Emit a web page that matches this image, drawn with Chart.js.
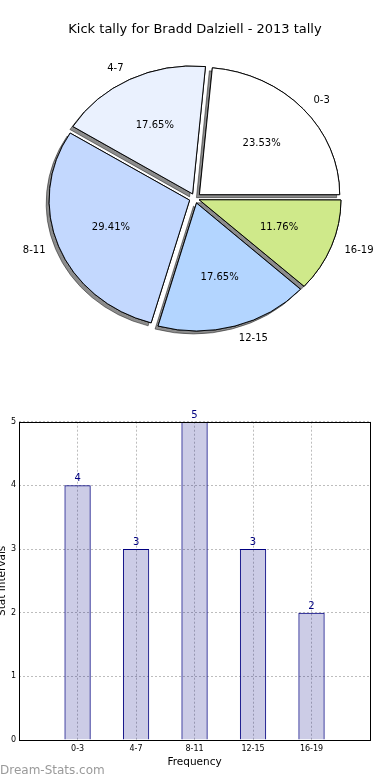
<!DOCTYPE html>
<html>
<head>
<meta charset="utf-8">
<script src="https://cdn.jsdelivr.net/npm/chart.js@4.4.1/dist/chart.umd.min.js"></script>
<style>
  body { margin: 0; background: #fff; width: 390px; height: 780px; position: relative; overflow: hidden; font-family: "DejaVu Sans", sans-serif; }
  canvas { display: block; }
  #pieBox { position: absolute; left: 0; top: 0; }
  #barBox { position: absolute; left: 0; top: 400px; }
  #mark { position: absolute; left: 0; top: 763px; font-size: 12px; line-height: 14px; color: #9a9a9a; }
</style>
</head>
<body>
<div id="pieBox"><canvas id="pieChart" width="390" height="351"></canvas></div>
<div id="barBox"><canvas id="barChart" width="390" height="380"></canvas></div>
<div id="mark">Dream-Stats.com</div>
<script>
// data
const categories = ["0-3", "4-7", "8-11", "12-15", "16-19"];
const kickCounts = [4, 3, 5, 3, 2];
const yTickValues = [0, 1, 2, 3, 4, 5];
const chartTitle = "Kick tally for Bradd Dalziell - 2013 tally";

// styles
const sliceColors = ["#ffffff", "#eaf1fe", "#c3d8fe", "#b3d5ff", "#cfe98a"];
const FONT = "'DejaVu Sans', sans-serif";
const Y_SQUASH = 0.908;   // matplotlib pie is drawn slightly flat
const EXPLODE = 6;        // px the wedge moves out

const total = kickCounts.reduce((a, b) => a + b, 0);

// matplotlib goes counter-clockwise, Chart.js clockwise -> reverse
const pieLabels = categories.slice().reverse();
const pieValues = kickCounts.slice().reverse();
const pieColors = sliceColors.slice().reverse();

// Chart.js moves an arc by offset/4 * (1 + fix), undo that so every wedge moves EXPLODE px
function arcOffset(ctx) {
  const circ = pieValues[ctx.dataIndex] / total * Math.PI * 2;
  const fix = 1 - Math.sin(Math.min(Math.PI, circ));
  return 4 * EXPLODE / (1 + fix);
}

const pieLook = {
  id: "pieLook",
  beforeDatasetsDraw(chart) {
    const ctx = chart.ctx;
    const arcs = chart.getDatasetMeta(0).data;
    const cx = arcs[0].x, cy = arcs[0].y;
    ctx.save();
    ctx.translate(cx, cy);
    ctx.scale(1, Y_SQUASH);
    ctx.translate(-cx, -cy);
    // shadow pass, wedges get drawn again on top
    ctx.save();
    ctx.shadowColor = "rgba(0,0,0,0.45)";
    ctx.shadowOffsetX = -3;
    ctx.shadowOffsetY = 3;
    ctx.shadowBlur = 0;
    arcs.forEach(a => a.draw(ctx));
    ctx.restore();
  },
  afterDatasetsDraw(chart) {
    const ctx = chart.ctx;
    ctx.restore();
    const arcs = chart.getDatasetMeta(0).data;
    ctx.save();
    ctx.fillStyle = "#000";
    ctx.font = "10px " + FONT;
    ctx.textBaseline = "middle";
    arcs.forEach((arc, i) => {
      const p = arc.getProps(["x", "y", "startAngle", "endAngle", "outerRadius"], true);
      const mid = (p.startAngle + p.endAngle) / 2;
      const c = Math.cos(mid), s = Math.sin(mid);
      const dp = p.outerRadius * 0.6 + EXPLODE;
      ctx.textAlign = "center";
      ctx.fillText((pieValues[i] / total * 100).toFixed(2) + "%", p.x + c * dp, p.y + s * dp * Y_SQUASH);
      const dl = p.outerRadius * 1.1 + EXPLODE;
      ctx.textAlign = c > 0 ? "left" : "right";
      ctx.fillText(pieLabels[i], p.x + c * dl, p.y + s * dl * Y_SQUASH);
    });
    ctx.restore();
  }
};

new Chart(document.getElementById("pieChart"), {
  type: "pie",
  data: {
    labels: pieLabels,
    datasets: [{
      data: pieValues,
      backgroundColor: pieColors,
      borderColor: "#000",
      borderWidth: 1,
      offset: arcOffset
    }]
  },
  options: {
    responsive: false,
    animation: false,
    events: [],
    rotation: 90,
    layout: { padding: 0 },
    plugins: {
      legend: { display: false },
      tooltip: { enabled: false },
      title: {
        display: true,
        text: chartTitle,
        color: "#000",
        font: { family: FONT, size: 13, weight: "normal" },
        padding: { top: 22, bottom: 8 }
      }
    }
  },
  plugins: [pieLook]
});

// bar chart
const barPoints = categories.map((c, i) => ({ x: i, y: kickCounts[i] }));

const barLook = {
  id: "barLook",
  afterDatasetsDraw(chart) {
    const ctx = chart.ctx;
    const bars = chart.getDatasetMeta(0).data;
    ctx.save();
    ctx.fillStyle = "#000080";
    ctx.font = "10px " + FONT;
    ctx.textAlign = "center";
    ctx.textBaseline = "alphabetic";
    bars.forEach((b, i) => {
      ctx.fillText(String(kickCounts[i]), b.x, b.y - 4);
    });
    const a = chart.chartArea;
    ctx.strokeStyle = "#000";
    ctx.lineWidth = 1;
    ctx.strokeRect(Math.round(a.left) + 0.5, Math.round(a.top) + 0.5,
      Math.round(a.right - a.left), Math.round(a.bottom - a.top));
    ctx.restore();
  }
};

const gridStyle = { color: "#bdbdbd", lineWidth: 1, drawTicks: false, offset: false };

new Chart(document.getElementById("barChart"), {
  type: "bar",
  data: {
    datasets: [{
      data: barPoints,
      backgroundColor: "rgba(0,0,128,0.2)",
      borderColor: "#000080",
      borderWidth: 1,
      categoryPercentage: 1,
      barPercentage: 0.45
    }]
  },
  options: {
    responsive: false,
    animation: false,
    events: [],
    layout: { padding: { left: -2.5, right: 20, top: 21.7, bottom: 12.9 } },
    plugins: { legend: { display: false }, tooltip: { enabled: false } },
    scales: {
      x: {
        type: "linear",
        offset: false,
        min: -1,
        max: categories.length,
        grid: gridStyle,
        border: { display: false, dash: [2, 2] },
        ticks: {
          stepSize: 1,
          padding: 4,
          maxRotation: 0,
          autoSkip: false,
          color: "#000",
          font: { family: FONT, size: 8 },
          callback: v => categories[v] !== undefined ? categories[v] : ""
        },
        title: {
          display: true,
          text: "Frequency",
          color: "#000",
          font: { family: FONT, size: 10.5, lineHeight: 1 },
          padding: { top: -1, bottom: 0 }
        }
      },
      y: {
        min: yTickValues[0],
        max: yTickValues[yTickValues.length - 1],
        grid: gridStyle,
        border: { display: false, dash: [2, 2] },
        ticks: {
          stepSize: 1,
          padding: 3,
          color: "#000",
          font: { family: FONT, size: 8 }
        },
        title: {
          display: true,
          text: "Stat Intervals",
          color: "#000",
          font: { family: FONT, size: 10.5, lineHeight: 1 },
          padding: 0
        }
      }
    }
  },
  plugins: [barLook]
});
</script>
</body>
</html>
